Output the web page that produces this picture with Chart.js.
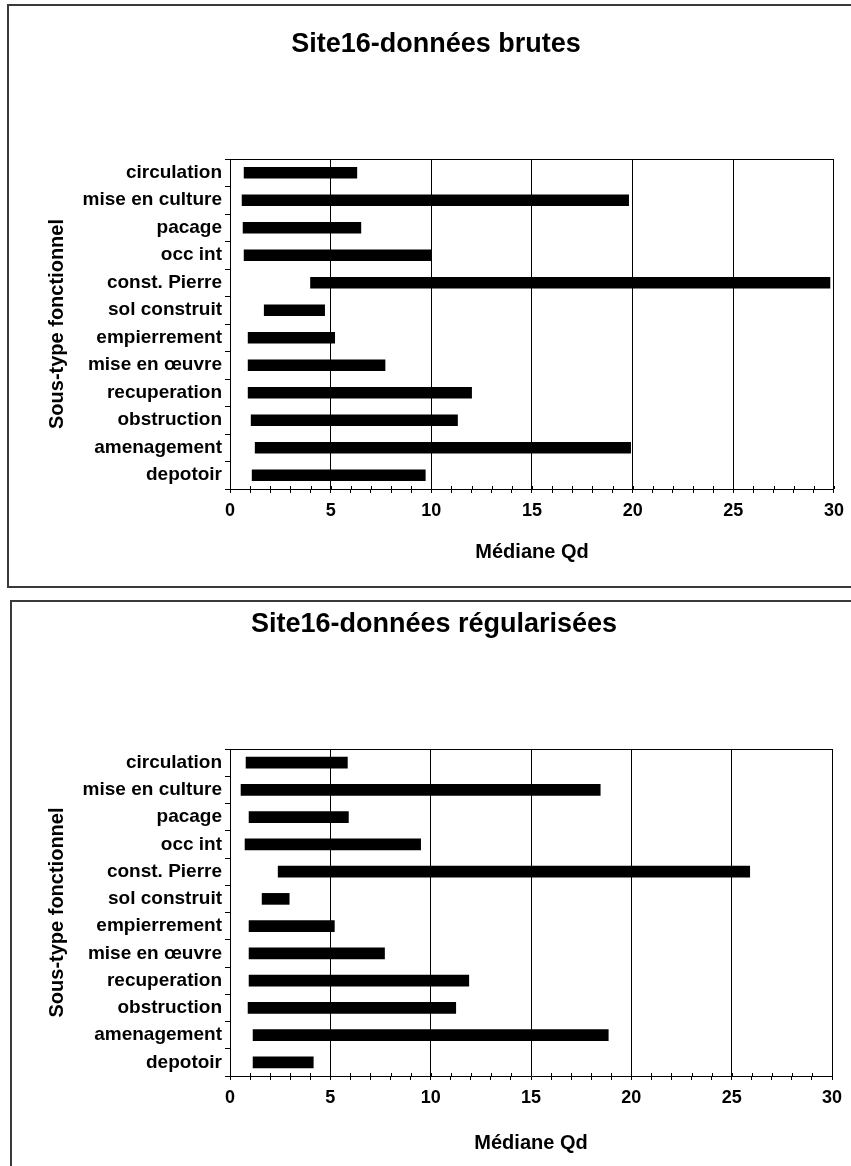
<!DOCTYPE html>
<html>
<head>
<meta charset="utf-8">
<script src="https://cdn.jsdelivr.net/npm/chart.js@4/dist/chart.umd.min.js"></script>
<style>
  html, body { margin: 0; padding: 0; background: #fff; width: 851px; height: 1166px; overflow: hidden; }
  .frame1 { position: absolute; left: 7px; top: 4px; width: 900px; height: 580px; border: 2px solid #3a3a3a; box-sizing: content-box; }
  .frame2 { position: absolute; left: 10px; top: 600px; width: 900px; height: 700px; border-left: 2px solid #3a3a3a; border-top: 2px solid #3a3a3a; }
  canvas { position: absolute; left: 0; }
  #c1 { top: 0; }
  #c2 { top: 590px; }
</style>
</head>
<body>
<div class="frame1"></div>
<div class="frame2"></div>
<canvas id="c1" width="851" height="595"></canvas>
<canvas id="c2" width="851" height="576"></canvas>
<script>
// ---- data ----
const categories = ["circulation", "mise en culture", "pacage", "occ int", "const. Pierre", "sol construit",
  "empierrement", "mise en \u0153uvre", "recuperation", "obstruction", "amenagement", "depotoir"];
const brutesStart = [0.7, 0.6, 0.65, 0.7, 4.0, 1.7, 0.9, 0.9, 0.9, 1.05, 1.25, 1.1];
const brutesEnd   = [6.3, 19.8, 6.5, 10.0, 29.8, 4.7, 5.2, 7.7, 12.0, 11.3, 19.9, 9.7];
const regStart    = [0.8, 0.55, 0.95, 0.75, 2.4, 1.6, 0.95, 0.95, 0.95, 0.9, 1.15, 1.15];
const regEnd      = [5.85, 18.45, 5.9, 9.5, 25.9, 2.95, 5.2, 7.7, 11.9, 11.25, 18.85, 4.15];
const xTickLabels = [0, 5, 10, 15, 20, 25, 30];
const title1 = "Site16-donn\u00e9es brutes";
const title2 = "Site16-donn\u00e9es r\u00e9gularis\u00e9es";
const xTitle = "M\u00e9diane Qd";
const yTitle = "Sous-type fonctionnel";

const FONT = "'Liberation Sans', Arial, Helvetica, sans-serif";

const framePlugin = {
  id: 'framePlugin',
  afterDraw(chart) {
    const ctx = chart.ctx;
    const a = chart.chartArea;
    const xs = chart.scales.x;
    ctx.save();
    ctx.strokeStyle = '#000';
    ctx.lineWidth = 1;
    // top border of plot area
    ctx.beginPath();
    ctx.moveTo(a.left, Math.round(a.top) + 0.5);
    ctx.lineTo(a.right, Math.round(a.top) + 0.5);
    ctx.stroke();
    // minor ticks crossing the x axis (upward part)
    xs.ticks.forEach(t => {
      const px = Math.round(xs.getPixelForValue(t.value)) + 0.5;
      ctx.beginPath();
      ctx.moveTo(px, a.bottom - 3);
      ctx.lineTo(px, a.bottom);
      ctx.stroke();
    });
    ctx.restore();
  }
};

function makeChart(id, title, starts, ends, L) {
  const data = categories.map((c, i) => [starts[i], ends[i]]);
  return new Chart(document.getElementById(id), {
    type: 'bar',
    data: {
      labels: categories,
      datasets: [{
        data: data,
        backgroundColor: '#000',
        borderWidth: 0,
        barThickness: 11
      }]
    },
    options: {
      indexAxis: 'y',
      responsive: false,
      animation: false,
      layout: { padding: { left: L.padLeft, right: L.padRight, top: 0, bottom: 0 } },
      plugins: {
        legend: { display: false },
        tooltip: { enabled: false },
        title: {
          display: true,
          text: title,
          color: '#000',
          font: { family: FONT, size: 27, weight: 'bold', lineHeight: 1.2 },
          padding: { top: L.titleTop, bottom: L.titleBottom }
        }
      },
      scales: {
        x: {
          type: 'linear',
          min: 0, max: 30,
          afterFit(s) { s.height = L.xHeight; },
          ticks: {
            stepSize: 1,
            autoSkip: false,
            maxRotation: 0,
            padding: L.xTickPad,
            color: '#000',
            font: { family: FONT, size: 18, weight: 'bold' },
            callback: (v) => xTickLabels.includes(v) ? String(v) : ''
          },
          grid: {
            color: (ctx) => (ctx.tick && xTickLabels.includes(ctx.tick.value)) ? '#000' : 'rgba(0,0,0,0)',
            tickColor: '#000',
            tickLength: 4,
            lineWidth: 1
          },
          border: { display: true, color: '#000', width: 1 },
          title: {
            display: true,
            text: xTitle,
            color: '#000',
            font: { family: FONT, size: 20, weight: 'bold', lineHeight: 1.2 },
            padding: { top: 0, bottom: L.xTitleBottom }
          }
        },
        y: {
          type: 'category',
          offset: true,
          afterFit(s) { s.width = 230 - L.padLeft; },
          ticks: {
            padding: 3,
            color: '#000',
            font: { family: FONT, size: 19, weight: 'bold' }
          },
          grid: {
            offset: true,
            drawOnChartArea: false,
            color: '#000',
            tickColor: '#000',
            tickLength: 5
          },
          border: { display: true, color: '#000', width: 1 },
          title: {
            display: true,
            text: yTitle,
            color: '#000',
            font: { family: FONT, size: 20, weight: 'bold', lineHeight: 1.2 },
            padding: { top: 45 - L.padLeft, bottom: 0 }
          }
        }
      }
    },
    plugins: [framePlugin]
  });
}

makeChart('c1', title1, brutesStart, brutesEnd,
  { padLeft: 38, padRight: 17, titleTop: 28, titleBottom: 98.6, xHeight: 106, xTickPad: 7, xTitleBottom: 31 });
makeChart('c2', title2, regStart, regEnd,
  { padLeft: 36, padRight: 19, titleTop: 18, titleBottom: 108.6, xHeight: 90, xTickPad: 7, xTitleBottom: 11 });
</script>
</body>
</html>
